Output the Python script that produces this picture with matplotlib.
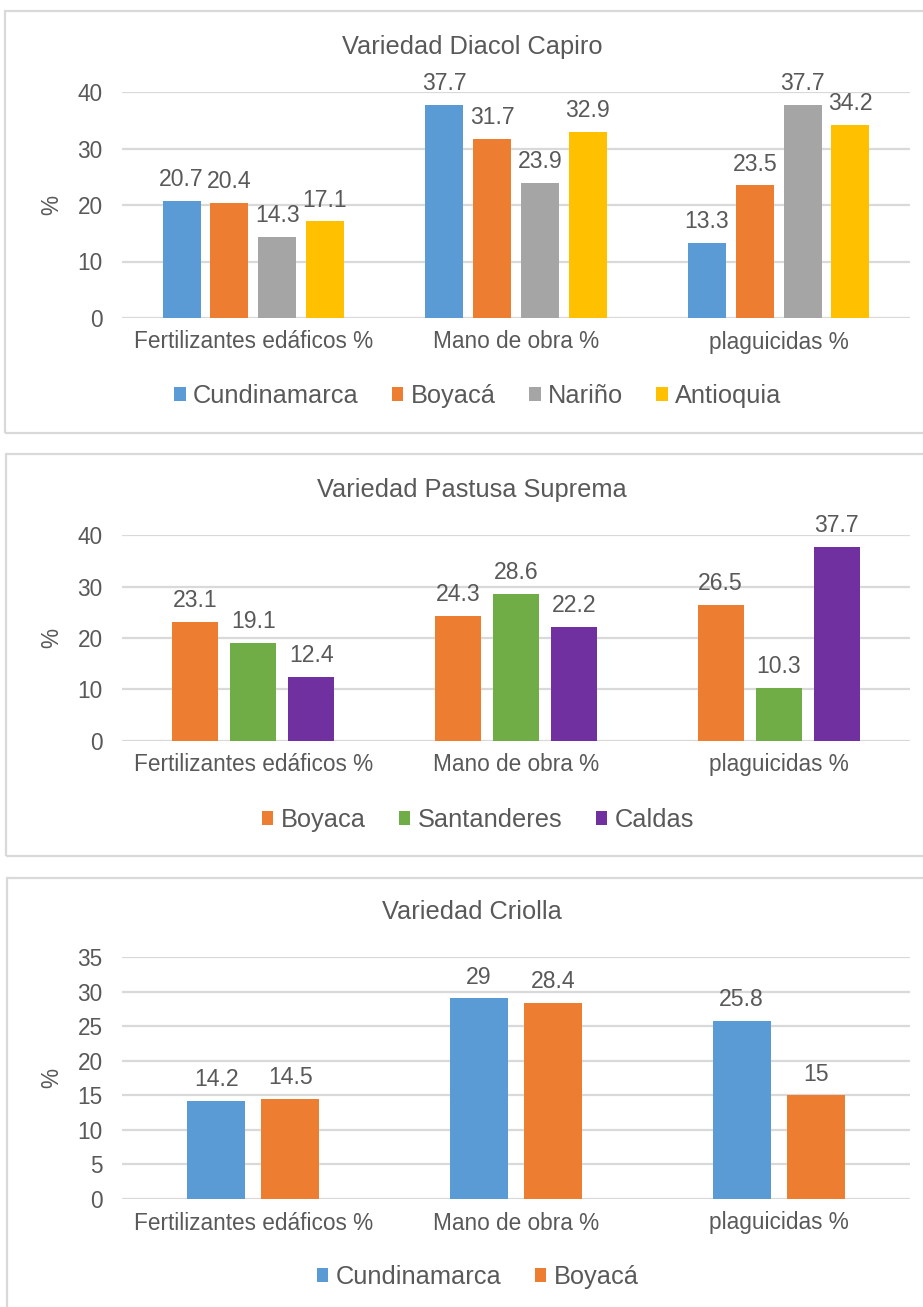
import matplotlib.pyplot as plt
from matplotlib.patches import Rectangle
import numpy as np

plt.rcParams['font.family'] = ['Liberation Sans', 'DejaVu Sans']

categories = ['Fertilizantes edáficos %', 'Mano de obra %', 'plaguicidas %']

# Variedad Diacol Capiro
capiro_regions = ['Cundinamarca', 'Boyacá', 'Nariño', 'Antioquia']
capiro_values = [
    [20.7, 37.7, 13.3],
    [20.4, 31.7, 23.5],
    [14.3, 23.9, 37.7],
    [17.1, 32.9, 34.2],
]
capiro_labels = [['20.7', '37.7', '13.3'], ['20.4', '31.7', '23.5'],
                 ['14.3', '23.9', '37.7'], ['17.1', '32.9', '34.2']]

# Variedad Pastusa Suprema
pastusa_regions = ['Boyaca', 'Santanderes', 'Caldas']
pastusa_values = [
    [23.1, 24.3, 26.5],
    [19.1, 28.6, 10.3],
    [12.4, 22.2, 37.7],
]
pastusa_labels = [['23.1', '24.3', '26.5'], ['19.1', '28.6', '10.3'],
                  ['12.4', '22.2', '37.7']]

# Variedad Criolla
criolla_regions = ['Cundinamarca', 'Boyacá']
criolla_values = [
    [14.2, 29, 25.8],
    [14.5, 28.4, 15],
]
criolla_labels = [['14.2', '29', '25.8'], ['14.5', '28.4', '15']]

W, H = 923, 1307
TXT = '#595959'
GRID = '#D9D9D9'
FS = 16.3


def fx(px):
    return px / W


def fy(px):
    return 1 - px / H


def panel(fig, top_px, bottom_px, left_px, title, title_y, y0_px, ytop_px, ymax, ystep,
          regions, values, labels, colors, step, width, legend_y):
    # border of the panel
    fig.patches.append(Rectangle((fx(left_px), fy(bottom_px)), fx(930 - left_px),
                                 (bottom_px - top_px) / H, transform=fig.transFigure,
                                 fill=False, ec=GRID, lw=1.6, zorder=0))
    fig.text(fx(472), fy(title_y), title, ha='center', va='center', fontsize=18.3, color=TXT)

    ax = fig.add_axes([fx(122), fy(y0_px), fx(910 - 122), (y0_px - ytop_px) / H])
    x = np.arange(len(categories))
    n = len(regions)
    for i, (reg, vals, labs, col) in enumerate(zip(regions, values, labels, colors)):
        xs = x + (i - (n - 1) / 2) * step
        ax.bar(xs, vals, width, color=col, label=reg, zorder=2)
        for xi, v, lab in zip(xs, vals, labs):
            ax.annotate(lab, (xi, v), xytext=(0, 7), textcoords='offset points',
                        ha='center', va='bottom', fontsize=16.6, color=TXT)
    ax.set_xlim(-0.5, len(categories) - 0.5)
    ax.set_ylim(0, ymax)
    ax.set_yticks(np.arange(0, ymax + 0.1, ystep))
    ax.set_xticks(x)
    ax.set_xticklabels(categories)
    ax.tick_params(axis='both', length=0, labelsize=FS, labelcolor=TXT)
    ax.tick_params(axis='y', pad=14)
    ax.tick_params(axis='x', pad=9)
    ax.yaxis.grid(True, color=GRID, lw=1.6, zorder=0)
    ax.set_axisbelow(True)
    for s in ax.spines.values():
        s.set_visible(False)
    ax.set_ylabel('%', fontsize=FS, color=TXT)
    ax.yaxis.set_label_coords(-0.075, 0.5)

    ax.legend(loc='center', bbox_to_anchor=(fx(478), fy(legend_y)),
              bbox_transform=fig.transFigure, ncol=n, frameon=False,
              fontsize=18.3, labelcolor=TXT, handlelength=0.45, handleheight=0.45,
              handletextpad=0.3, columnspacing=1.3)
    return ax


fig = plt.figure(figsize=(W / 100, H / 100), dpi=100)

panel(fig, 11, 433, 5, 'Variedad Diacol Capiro', 47, 318, 92, 40, 10,
      capiro_regions, capiro_values, capiro_labels,
      ['#5B9BD5', '#ED7D31', '#A5A5A5', '#FFC000'], 0.182, 0.145, 396)

panel(fig, 454, 856, 6, 'Variedad Pastusa Suprema', 490, 741, 535, 40, 10,
      pastusa_regions, pastusa_values, pastusa_labels,
      ['#ED7D31', '#70AD47', '#7030A0'], 0.221, 0.175, 820)

panel(fig, 878, 1330, 7, 'Variedad Criolla', 912, 1199, 957, 35, 5,
      criolla_regions, criolla_values, criolla_labels,
      ['#5B9BD5', '#ED7D31'], 0.282, 0.221, 1277)

fig.savefig('out.png', dpi=100, facecolor='white')
